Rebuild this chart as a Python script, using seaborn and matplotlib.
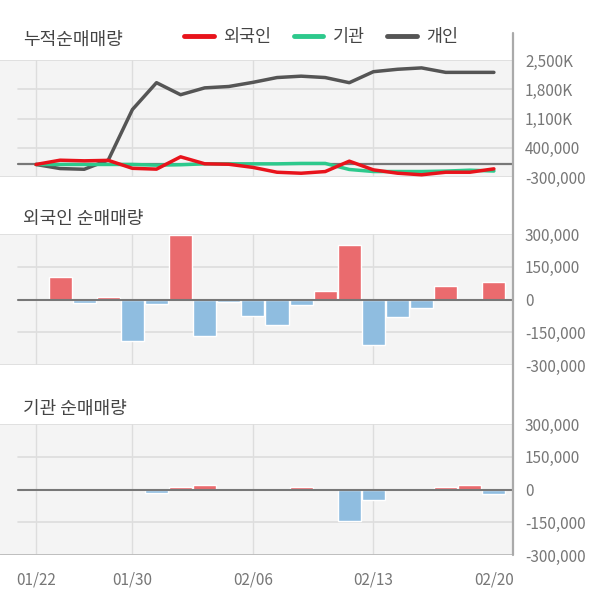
import numpy as np
import pandas as pd
import matplotlib
matplotlib.use("Agg")
import matplotlib.pyplot as plt
from matplotlib.lines import Line2D
import seaborn as sns

sns.set_style("white")
plt.rcParams['font.family'] = ['Noto Sans CJK KR', 'DejaVu Sans']

# ---- data ----
dates = ["01/22", "01/23", "01/28", "01/29", "01/30", "01/31", "02/03", "02/04", "02/05", "02/06",
         "02/07", "02/10", "02/11", "02/12", "02/13", "02/14", "02/17", "02/18", "02/19", "02/20"]
tick_dates = ["01/22", "01/30", "02/06", "02/13", "02/20"]

foreign_cum = [0, 102000, 87000, 98000, -92000, -112000, 183000, 16000, 5000, -70000,
               -186000, -210000, -170000, 79000, -129000, -209000, -247000, -186000, -186000, -105000]
inst_cum = [0, 0, 0, 0, 0, -17000, -7000, 15000, 15000, 15000,
            15000, 25000, 25000, -120000, -169000, -169000, -169000, -159000, -137000, -157000]
indiv_cum = [0, -98000, -115000, 106000, 1314000, 1957000, 1669000, 1833000, 1866000, 1965000,
             2080000, 2113000, 2080000, 1957000, 2220000, 2278000, 2311000, 2204000, 2204000, 2204000]

foreign_daily = [0, 102000, -15000, 11000, -190000, -20000, 295000, -167000, -11000, -75000,
                 -116000, -24000, 40000, 249000, -208000, -80000, -38000, 61000, 0, 81000]
inst_daily = [0, 0, 0, 0, 0, -17000, 10000, 22000, 0, 0,
              0, 10000, 0, -145000, -49000, 0, 0, 10000, 22000, -20000]

top_ticks = [2500000, 1800000, 1100000, 400000, -300000]
top_labels = ["2,500K", "1,800K", "1,100K", "400,000", "-300,000"]
bar_ticks = [300000, 150000, 0, -150000, -300000]
bar_labels = ["300,000", "150,000", "0", "-150,000", "-300,000"]

# ---- styles ----
W, H = 600, 604
BG = "#F4F4F4"
GRID = "#DDDDDD"
RED_L, GREEN_L, DARK_L = "#E8131B", "#2DC98C", "#555555"
RED_B, BLUE_B = "#EA6B6E", "#8FBDE0"
TXT = "#444444"
TICK = "#777777"

fig = plt.figure(figsize=(W / 100, H / 100), dpi=100)

def add_ax(top, bottom, left=0, right=513):
    return fig.add_axes([left / W, 1 - bottom / H, (right - left) / W, (bottom - top) / H])

n = len(dates)
idx = np.arange(n)
XL = (-36 / 24.1, (513 - 36) / 24.1)
vgrid = [0, 4, 9, 14]

def style(ax, ylim, yt, ylab):
    ax.set_facecolor(BG)
    ax.set_xlim(*XL)
    ax.set_ylim(*ylim)
    for s in ax.spines.values():
        s.set_visible(False)
    for v in vgrid:
        ax.axvline(v, color=GRID, lw=1, zorder=0.5)
    for t in yt:
        xmin = 0 if t in (ylim[0], ylim[1]) else 18 / 513
        ax.axhline(t, xmin=xmin, color=GRID, lw=1.2, zorder=0.5)
    ax.yaxis.tick_right()
    ax.set_yticks(yt)
    ax.set_yticklabels(ylab)
    ax.tick_params(axis='y', length=0, pad=8.6, labelsize=11, labelcolor=TICK)
    ax.set_xlabel("")
    ax.set_ylabel("")

# ---- top: cumulative ----
ax1 = add_ax(60, 177)
df_c = pd.DataFrame({"idx": idx, "foreign": foreign_cum, "inst": inst_cum, "indiv": indiv_cum})
ax1.axhline(0, xmin=18 / 513, color="#777777", lw=1.6, zorder=1)
sns.lineplot(data=df_c, x="idx", y="indiv", color=DARK_L, lw=2.5, ax=ax1, zorder=3)
sns.lineplot(data=df_c, x="idx", y="inst", color=GREEN_L, lw=2.5, ax=ax1, zorder=3)
sns.lineplot(data=df_c, x="idx", y="foreign", color=RED_L, lw=2.5, ax=ax1, zorder=4)
style(ax1, (-300000, 2500000), top_ticks, top_labels)
ax1.set_xticks([])

# ---- bar panels ----
def bar_panel(top, bottom, vals):
    ax = add_ax(top, bottom)
    df = pd.DataFrame({"idx": idx, "val": vals,
                       "sign": ["pos" if v >= 0 else "neg" for v in vals]})
    sns.barplot(data=df, x="idx", y="val", hue="sign", palette={"pos": RED_B, "neg": BLUE_B},
                dodge=False, width=0.96, saturation=1, errorbar=None, legend=False, ax=ax, zorder=2)
    ax.axhline(0, xmin=18 / 513, color="#777777", lw=1.5, zorder=3)
    style(ax, (-300000, 300000), bar_ticks, bar_labels)
    return ax

ax2 = bar_panel(234, 365, foreign_daily)
ax2.set_xticks([])
ax3 = bar_panel(424, 555, inst_daily)
ax3.axhline(-300000, color="#BBBBBB", lw=2, zorder=4)
ax3.set_xticks([dates.index(d) for d in tick_dates])
ax3.set_xticklabels(tick_dates)
ax3.tick_params(axis='x', length=0, pad=12, labelsize=11, labelcolor=TICK)

# right vertical axis line
fig.add_artist(Line2D([513 / W, 513 / W], [1 - 33 / H, 1 - 555 / H], color="#AAAAAA", lw=1.6))

# titles
fig.text(23 / W, 1 - 40 / H, "누적순매매량", fontsize=13, color=TXT, va="center", ha="left")
fig.text(23 / W, 1 - 219 / H, "외국인 순매매량", fontsize=13, color=TXT, va="center", ha="left")
fig.text(23 / W, 1 - 409 / H, "기관 순매매량", fontsize=13, color=TXT, va="center", ha="left")

# legend
handles = [Line2D([0], [0], color=RED_L, lw=3.5),
           Line2D([0], [0], color=GREEN_L, lw=3.5),
           Line2D([0], [0], color=DARK_L, lw=3.5)]
fig.legend(handles, ["외국인", "기관", "개인"], loc="center left",
           bbox_to_anchor=(184 / W, 1 - 37 / H), ncol=3, frameon=False,
           fontsize=12.5, labelcolor=TXT, handlelength=1.7, handletextpad=0.55,
           columnspacing=1.3, borderpad=0, borderaxespad=0)

fig.savefig("out.png", dpi=100)
